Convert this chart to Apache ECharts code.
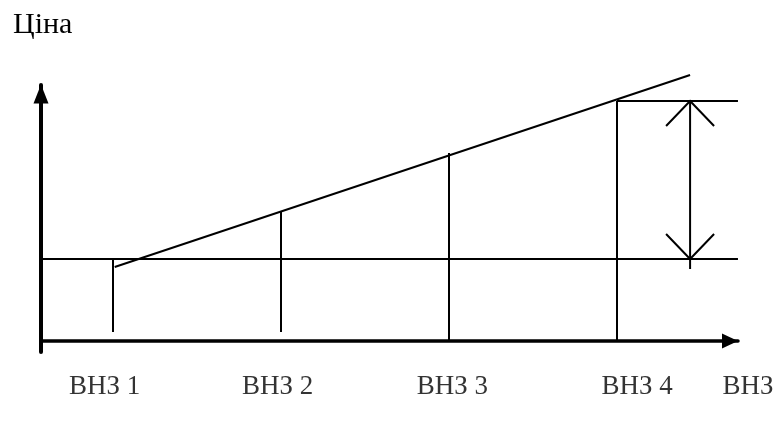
<!DOCTYPE html>
<html>
<head>
<meta charset="utf-8">
<script src="https://cdn.jsdelivr.net/npm/echarts@6/dist/echarts.min.js"></script>
<style>html,body{margin:0;padding:0;background:#fff}#c{width:774px;height:423px}</style>
</head>
<body>
<div id="c"></div>
<script>
// ---- data ----
const categories = ['ВНЗ 1', 'ВНЗ 2', 'ВНЗ 3', 'ВНЗ 4'];
const catX = [1, 2, 3, 4];
const priceTop = [82, 130, 188, 240];      // top of each institution's price bar
const priceBottom = [9, 9, 0, 0];          // bottom of each vertical line
const basePrice = 82;                      // base (horizontal) price level
const trendStart = [1.01, 74];
const trendEnd = [4.435, 266];
const gapX = 4.435;                        // position of the double arrow
const gapTop = 240, gapBottom = 82, gapTail = 72;
const lineEnd = 4.72;
const xLabels = ['ВНЗ 1', 'ВНЗ 2', 'ВНЗ 3', 'ВНЗ 4', 'ВНЗ'];
const xLabelPos = [0.95, 1.98, 3.02, 4.12, 4.78];
const axisXMin = 0.5714, axisXMax = 4.7202;
const axisYMin = -11, axisYMax = 256;

const FONT = '"Liberation Serif", "Times New Roman", serif';
const chart = echarts.init(document.getElementById('c'), null, {renderer: 'canvas'});

const thin = {color: '#000', width: 2};
const hThin = {color: '#000', width: 2};
const series = [];
// vertical price lines
categories.forEach((c, i) => {
  series.push({
    type: 'line', data: [[catX[i], priceBottom[i]], [catX[i], priceTop[i]]],
    symbol: 'none', lineStyle: thin, clip: false, silent: true
  });
});
// base horizontal line
series.push({type: 'line', data: [[axisXMin, basePrice], [lineEnd, basePrice]], symbol: 'none', lineStyle: hThin, clip: false});
// trend line
series.push({type: 'line', data: [trendStart, trendEnd], symbol: 'none', lineStyle: thin, clip: false});
// top horizontal line at ВНЗ 4 level
series.push({type: 'line', data: [[catX[3], priceTop[3]], [lineEnd, priceTop[3]]], symbol: 'none', lineStyle: hThin, clip: false});
// double arrow (custom)
series.push({
  type: 'custom', clip: false,
  data: [[gapX, gapTop, gapBottom, gapTail]],
  renderItem: function (params, api) {
    const top = api.coord([api.value(0), api.value(1)]);
    const bot = api.coord([api.value(0), api.value(2)]);
    const tail = api.coord([api.value(0), api.value(3)]);
    const w = 24, h = 25;
    const st = {stroke: '#000', lineWidth: 2, fill: null};
    return {type: 'group', children: [
      {type: 'line', shape: {x1: top[0], y1: top[1], x2: tail[0], y2: tail[1]}, style: st},
      {type: 'polyline', shape: {points: [[top[0] - w, top[1] + h], [top[0], top[1]], [top[0] + w, top[1] + h]]}, style: st},
      {type: 'polyline', shape: {points: [[bot[0] - w, bot[1] - h], [bot[0], bot[1]], [bot[0] + w, bot[1] - h]]}, style: st}
    ]};
  }
});
// x labels
series.push({
  type: 'scatter', clip: false, symbolSize: 0,
  data: xLabels.map((t, i) => ({value: [xLabelPos[i], -46], name: t})),
  label: {show: true, position: 'inside', formatter: p => p.name, color: '#000', fontFamily: FONT, fontSize: 27}
});

chart.setOption({
  animation: false,
  backgroundColor: '#fff',
  title: {text: 'Ціна', left: 8, top: 5, textStyle: {fontFamily: FONT, fontSize: 30, fontWeight: 'normal', color: '#000'}},
  grid: {left: 41, right: 36, top: 85, bottom: 71},
  xAxis: {
    type: 'value', min: axisXMin, max: axisXMax,
    axisLine: {show: true, onZero: true, lineStyle: {color: '#000', width: 3.5}, symbol: ['none', 'triangle'], symbolSize: [15, 16], symbolOffset: [0, -8]},
    axisTick: {show: false}, axisLabel: {show: false}, splitLine: {show: false}
  },
  yAxis: {
    type: 'value', min: axisYMin, max: axisYMax,
    axisLine: {show: true, onZero: false, lineStyle: {color: '#000', width: 4}, symbol: ['none', 'triangle'], symbolSize: [15, 19], symbolOffset: [0, -9]},
    axisTick: {show: false}, axisLabel: {show: false}, splitLine: {show: false}
  },
  series: series
});
</script>
</body>
</html>
